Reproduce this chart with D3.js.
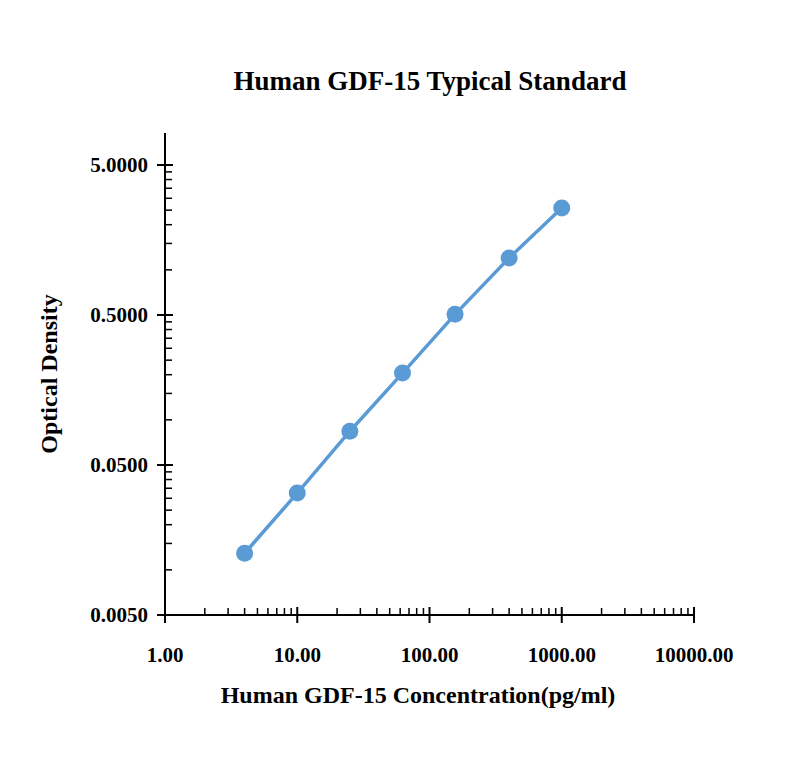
<!DOCTYPE html>
<html><head><meta charset="utf-8">
<script src="https://cdn.jsdelivr.net/npm/d3@7"></script>
<style>body{margin:0;background:#fff}text{font-family:"Liberation Serif","Times New Roman",serif;font-weight:bold}</style>
</head><body><svg id="c" width="800" height="776"></svg>
<script>
const concentrations = [4, 10, 25, 62.5, 156, 400, 1000];
const densities = [0.0129, 0.0325, 0.084, 0.205, 0.505, 1.2, 2.58];
const xTicks = [1, 10, 100, 1000, 10000];
const yTicks = [0.005, 0.05, 0.5, 5];

const svg = d3.select('#c');
const x = d3.scaleLog().domain([1, 10000]).range([165, 694]);
const y = d3.scaleLog().domain([0.005, 5]).range([615, 165]);
const color = '#5b9bd5';

// axis lines
svg.append('line').attr('x1', 165).attr('x2', 694).attr('y1', 615).attr('y2', 615).attr('stroke', '#000').attr('stroke-width', 2);
svg.append('line').attr('x1', 165).attr('x2', 165).attr('y1', 133).attr('y2', 615).attr('stroke', '#000').attr('stroke-width', 2);

// minor ticks
const minorX = [];
[1, 10, 100, 1000].forEach(d => { for (let k = 2; k <= 9; k++) minorX.push(d * k); });
const minorY = [];
[0.005, 0.05, 0.5, 5].forEach(d => { for (let k = 2; k <= 9; k++) if (d * k <= 9) minorY.push(d * k); });
svg.selectAll('.mx').data(minorX).enter().append('line')
  .attr('x1', d => x(d)).attr('x2', d => x(d)).attr('y1', 615).attr('y2', 608)
  .attr('stroke', '#000').attr('stroke-width', 1.5);
svg.selectAll('.my').data(minorY.filter(d => y(d) >= 133)).enter().append('line')
  .attr('x1', 165).attr('x2', 172).attr('y1', d => y(d)).attr('y2', d => y(d))
  .attr('stroke', '#000').attr('stroke-width', 1.5);

// major ticks
svg.selectAll('.Mx').data(xTicks).enter().append('line')
  .attr('x1', d => x(d)).attr('x2', d => x(d)).attr('y1', 607).attr('y2', 623)
  .attr('stroke', '#000').attr('stroke-width', 2);
svg.selectAll('.My').data(yTicks).enter().append('line')
  .attr('x1', 157).attr('x2', 173).attr('y1', d => y(d)).attr('y2', d => y(d))
  .attr('stroke', '#000').attr('stroke-width', 2);

// tick labels
svg.selectAll('.lx').data(xTicks).enter().append('text')
  .attr('x', d => x(d)).attr('y', 662).attr('text-anchor', 'middle').attr('font-size', 21)
  .text(d => d.toFixed(2));
svg.selectAll('.ly').data(yTicks).enter().append('text')
  .attr('x', 148).attr('y', d => y(d) + 7).attr('text-anchor', 'end').attr('font-size', 21)
  .text(d => d.toFixed(4));

// titles
svg.append('text').attr('x', 430).attr('y', 90).attr('text-anchor', 'middle').attr('font-size', 27)
  .text('Human GDF-15 Typical Standard');
svg.append('text').attr('x', 418).attr('y', 703).attr('text-anchor', 'middle').attr('font-size', 24)
  .text('Human GDF-15 Concentration(pg/ml)');
svg.append('text').attr('transform', 'translate(57,374) rotate(-90)').attr('text-anchor', 'middle').attr('font-size', 24)
  .text('Optical Density');

// series
const pts = concentrations.map((c, i) => [c, densities[i]]);
svg.append('path').datum(pts)
  .attr('d', d3.line().x(d => x(d[0])).y(d => y(d[1])))
  .attr('fill', 'none').attr('stroke', color).attr('stroke-width', 3.5);
svg.selectAll('.pt').data(pts).enter().append('circle')
  .attr('cx', d => x(d[0])).attr('cy', d => y(d[1])).attr('r', 8.5).attr('fill', color);
</script></body></html>
